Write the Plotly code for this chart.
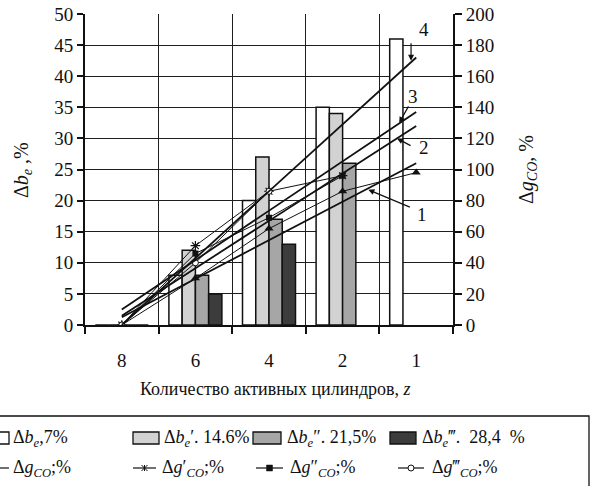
import plotly.graph_objects as go

# number of active cylinders (categories along the x axis)
cylinders = ["8", "6", "4", "2", "1"]

# increase of specific fuel consumption, % (left axis, bars)
db_e_7 = [0, 8, 20, 35, 46]
db_e_146 = [0, 12, 27, 34, None]
db_e_215 = [0, 8, 17, 26, None]
db_e_284 = [0, 5, 13, None, None]

# increase of CO emission, % (right axis, lines with markers)
dg_co = [0, 30, 62, 86, 98]
dg1_co = [0, 51, 86, 96, None]
dg2_co = [0, 46, 69, 96, None]
dg3_co = [0, 40, 86, None, None]

# straight trend lines 1..4: value at z = 8 and at z = 1
trend_ids = ["1", "2", "3", "4"]
trend_start = [5, 6, 10, 0]
trend_end = [104, 128, 137, 172]

FONT = "Liberation Serif"
INK = "#111111"
GRID = "#1e1e1e"

Y_MAX, Y_STEP = 50, 5
Y2_MAX, Y2_STEP = 200, 20

bar_fills = ["#ffffff", "#d2d2d2", "#a6a6a6", "#3c3c3c"]
bar_series = [db_e_7, db_e_146, db_e_215, db_e_284]

fig = go.Figure()

for vals, fill in zip(bar_series, bar_fills):
    fig.add_trace(go.Bar(
        x=cylinders, y=vals, yaxis="y",
        marker=dict(color=fill, line=dict(color=INK, width=1.5)),
        showlegend=False,
    ))

line_series = [
    (dg_co, dict(symbol="triangle-up", size=8, color=INK)),
    (dg1_co, dict(symbol="asterisk-open", size=8, color=INK, line=dict(color=INK, width=1.2))),
    (dg2_co, dict(symbol="square", size=6, color=INK)),
    (dg3_co, dict(symbol="circle", size=6, color="white", line=dict(color=INK, width=1))),
]
for vals, mk in line_series:
    fig.add_trace(go.Scatter(
        x=cylinders, y=vals, yaxis="y2", mode="lines+markers",
        line=dict(color=INK, width=1), marker=mk, showlegend=False,
    ))

for lo, hi in zip(trend_start, trend_end):
    fig.add_trace(go.Scatter(
        x=[cylinders[0], cylinders[-1]], y=[lo, hi], yaxis="y2", mode="lines",
        line=dict(color=INK, width=1.8), showlegend=False,
    ))

# plot area in pixels: x 85..453, y 14..325
PX0, PX1, PY0, PY1 = 85, 453, 14, 325


def px(x):
    return (x - PX0) / (PX1 - PX0)


def py(y):
    return (PY1 - y) / (PY1 - PY0)


annotations = []
shapes = []

# curve numbers with leader arrows
label_arrows = [
    # text, text x (category index), text y2, arrow tip x, tip y2, tail dx, tail dy
    ("4", 4.10, 190, 3.93, 170, 0, -19),
    ("3", 3.96, 147, 3.77, 130, 10, -18),
    ("2", 4.10, 114, 3.74, 120, 15, 8),
    ("1", 4.08, 71, 3.35, 87, 43, 18),
]
for txt, tx, ty, ax_, ay_, dx, dy in label_arrows:
    annotations.append(dict(x=ax_, y=ay_, xref="x", yref="y2", text="",
                            showarrow=True, arrowhead=2, arrowsize=1,
                            arrowwidth=1.2, arrowcolor=INK, ax=dx, ay=dy,
                            standoff=0))
    annotations.append(dict(x=tx, y=ty, xref="x", yref="y2", text=txt,
                            xanchor="center", yanchor="middle",
                            showarrow=False, font=dict(family=FONT, size=19, color=INK)))

# axis titles
annotations.append(dict(x=px(22), y=py(170), xref="paper", yref="paper",
                        xanchor="center", yanchor="middle",
                        text="Δ<i>b<sub>e</sub></i> ,%", textangle=-90, showarrow=False,
                        font=dict(family=FONT, size=20, color=INK)))
annotations.append(dict(x=px(527), y=py(170), xref="paper", yref="paper",
                        xanchor="center", yanchor="middle",
                        text="Δ<i>g<sub>CO</sub></i>, %", textangle=-90, showarrow=False,
                        font=dict(family=FONT, size=20, color=INK)))
annotations.append(dict(x=px(275), y=py(389), xref="paper", yref="paper",
                        xanchor="center", yanchor="middle",
                        text="Количество активных цилиндров, <i>z</i>", showarrow=False,
                        font=dict(family=FONT, size=18, color=INK)))

# legend frame (left and bottom edges run off the page)
shapes.append(dict(type="rect", xref="paper", yref="paper",
                   x0=px(-5), x1=px(589), y0=py(496), y1=py(416),
                   line=dict(color=INK, width=1.3)))

LEG_FONT = dict(family=FONT, size=18, color=INK)
row1 = 438
row2 = 468

# bar swatches
bar_keys = [
    (-11, 9, "Δ<i>b<sub>e</sub></i>,7%", 11),
    (133, 159, "Δ<i>b<sub>e</sub></i>′. 14.6%", 162),
    (253, 281, "Δ<i>b<sub>e</sub></i>″. 21,5%", 285),
    (390, 416, "Δ<i>b<sub>e</sub></i>‴.  28,4  %", 420),
]
for (x0, x1, txt, tx), fill in zip(bar_keys, bar_fills):
    shapes.append(dict(type="rect", xref="paper", yref="paper",
                       x0=px(x0), x1=px(x1), y0=py(row1 + 6), y1=py(row1 - 6),
                       fillcolor=fill, line=dict(color=INK, width=1.3)))
    annotations.append(dict(x=px(tx), y=py(row1), xref="paper", yref="paper",
                            xanchor="left", yanchor="middle", text=txt,
                            showarrow=False, font=LEG_FONT))

# line swatches
line_keys = [
    (-20, 9, None, "Δ<i>g<sub>CO</sub></i>;%", 11),
    (133, 156, "asterisk", "Δ<i>g</i>′<sub><i>CO</i></sub>;%", 160),
    (256, 283, "square", "Δ<i>g</i>″<sub><i>CO</i></sub>;%", 288),
    (398, 424, "circle", "Δ<i>g</i>‴<sub><i>CO</i></sub>;%", 430),
]
for x0, x1, mk, txt, tx in line_keys:
    shapes.append(dict(type="line", xref="paper", yref="paper",
                       x0=px(x0), x1=px(x1), y0=py(row2), y1=py(row2),
                       line=dict(color=INK, width=1.2)))
    cx = (x0 + x1) / 2
    if mk == "asterisk":
        for a, b in [((-3, -3), (3, 3)), ((-3, 3), (3, -3)), ((0, -3), (0, 3))]:
            shapes.append(dict(type="line", xref="paper", yref="paper",
                               x0=px(cx + a[0]), y0=py(row2 + a[1]),
                               x1=px(cx + b[0]), y1=py(row2 + b[1]),
                               line=dict(color=INK, width=1)))
    elif mk == "square":
        shapes.append(dict(type="rect", xref="paper", yref="paper",
                           x0=px(cx - 3), x1=px(cx + 3), y0=py(row2 + 3), y1=py(row2 - 3),
                           fillcolor=INK, line=dict(color=INK, width=0.5)))
    elif mk == "circle":
        shapes.append(dict(type="circle", xref="paper", yref="paper",
                           x0=px(cx - 3), x1=px(cx + 3), y0=py(row2 + 3), y1=py(row2 - 3),
                           fillcolor="white", line=dict(color=INK, width=1)))
    annotations.append(dict(x=px(tx), y=py(row2), xref="paper", yref="paper",
                            xanchor="left", yanchor="middle", text=txt,
                            showarrow=False, font=LEG_FONT))

axis_common = dict(showline=True, linecolor=INK, linewidth=2, zeroline=False,
                   ticks="outside", tickcolor=INK, tickwidth=1.5,
                   tickfont=dict(family=FONT, size=19, color=INK))

fig.update_layout(
    template="none",
    width=592, height=486,
    margin=dict(l=PX0, r=592 - PX1, t=PY0, b=486 - PY1),
    barmode="group", bargap=0.28, bargroupgap=0,
    plot_bgcolor="white", paper_bgcolor="white",
    showlegend=False,
    font=dict(family=FONT, size=18, color=INK),
    xaxis=dict(type="category", categoryorder="array", categoryarray=cylinders,
               range=[-0.5, len(cylinders) - 0.5], tickson="boundaries", ticklen=7,
               showgrid=True, gridcolor=GRID, gridwidth=1.4,
               ticklabelstandoff=17, **axis_common),
    yaxis=dict(range=[0, Y_MAX], dtick=Y_STEP, ticklen=6,
               showgrid=True, gridcolor=GRID, gridwidth=1.4, **axis_common),
    yaxis2=dict(overlaying="y", side="right", range=[0, Y2_MAX], dtick=Y2_STEP,
                ticklen=7, showgrid=False, **axis_common),
    annotations=annotations,
    shapes=shapes,
)

fig.write_html("out.html")
